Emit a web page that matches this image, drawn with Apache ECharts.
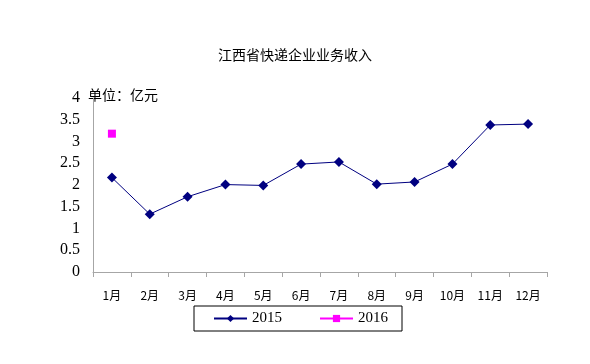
<!DOCTYPE html>
<html><head><meta charset="utf-8">
<script src="https://cdn.jsdelivr.net/npm/echarts@6/dist/echarts.min.js"></script>
<style>html,body{margin:0;padding:0;background:#fff}#c{width:590px;height:364px}</style>
</head><body><div id="c"></div>
<script>
const categories = ['1月','2月','3月','4月','5月','6月','7月','8月','9月','10月','11月','12月'];
const series2015 = [2.17, 1.33, 1.73, 2.01, 1.99, 2.48, 2.53, 2.02, 2.07, 2.48, 3.38, 3.40];
const series2016 = [3.18, null, null, null, null, null, null, null, null, null, null, null];
const yTicks = [0, 0.5, 1, 1.5, 2, 2.5, 3, 3.5, 4];

const chart = echarts.init(document.getElementById('c'));
chart.setOption({
  animation: false,
  backgroundColor: '#fff',
  title: {
    text: '江西省快递企业业务收入',
    left: 'center', top: 43,
    textStyle: {fontFamily: 'Noto Sans CJK SC', fontSize: 14, fontWeight: 'normal', color: '#000'}
  },
  graphic: [{
    type: 'text', left: 88, top: 88,
    style: {text: '单位：亿元', font: '14px "Noto Sans CJK SC"', fill: '#000'}
  }],
  grid: {left: 93, right: 43, top: 98, bottom: 92},
  legend: {
    left: 194, top: 306,
    data: ['2015', '2016'],
    itemWidth: 33, itemHeight: 9, itemGap: 37,
    padding: [5, 14, 5, 19],
    borderColor: '#000', borderWidth: 1,
    textStyle: {fontFamily: 'Liberation Serif', fontSize: 15, color: '#000'}
  },
  xAxis: {
    type: 'category', data: categories, boundaryGap: true,
    axisLine: {lineStyle: {color: '#a6a6a6'}},
    axisTick: {show: true, length: 5, lineStyle: {color: '#a6a6a6'}},
    axisLabel: {color: '#000', fontFamily: 'Noto Sans CJK SC', fontSize: 12, margin: 17}
  },
  yAxis: {
    type: 'value', min: 0, max: 4, interval: 0.5,
    axisLine: {show: true, lineStyle: {color: '#a6a6a6'}},
    axisTick: {show: false},
    splitLine: {show: false},
    axisLabel: {color: '#000', fontFamily: 'Liberation Serif', fontSize: 16, margin: 13,
      formatter: v => String(yTicks.find(t => Math.abs(t - v) < 1e-9) ?? v)}
  },
  series: [
    {name: '2015', type: 'line', data: series2015, symbol: 'diamond', symbolSize: 10,
     lineStyle: {color: '#000080', width: 1}, itemStyle: {color: '#000080'}},
    {name: '2016', type: 'line', data: series2016, symbol: 'rect', symbolSize: 8,
     lineStyle: {color: '#ff00ff', width: 1}, itemStyle: {color: '#ff00ff'}}
  ]
});
</script></body></html>
